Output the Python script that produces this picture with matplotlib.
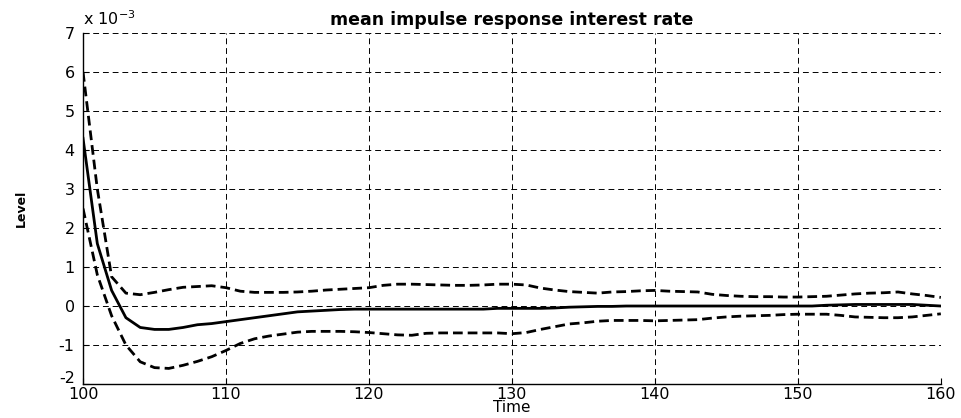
import matplotlib
matplotlib.use("Agg")
import matplotlib.pyplot as plt
from matplotlib.ticker import FuncFormatter
from matplotlib.transforms import ScaledTranslation
import numpy as np

# Data (values in units of 1e-3) ---------------------------------------------
time = np.arange(100, 161);

mean_resp = [4.3, 1.6, 0.4, -0.3, -0.55, -0.6, -0.6, -0.55, -0.48, -0.45,
	-0.4, -0.35, -0.3, -0.25, -0.2, -0.15, -0.13, -0.11, -0.09, -0.08,
	-0.08, -0.08, -0.08, -0.08, -0.08, -0.08, -0.08, -0.08, -0.08, -0.06,
	-0.06, -0.06, -0.06, -0.05, -0.03, -0.02, -0.01, -0.01, 0.0, 0.0,
	0.0, 0.0, 0.0, 0.0, 0.0, 0.0, 0.0, 0.0, 0.0, 0.0,
	0.0, 0.0, 0.02, 0.03, 0.04, 0.04, 0.04, 0.04, 0.04, 0.02,
	0.0];

upper_band = [6.0, 3.0, 0.75, 0.33, 0.29, 0.35, 0.42, 0.48, 0.5, 0.52,
	0.47, 0.38, 0.35, 0.35, 0.35, 0.36, 0.38, 0.41, 0.43, 0.45,
	0.47, 0.53, 0.56, 0.56, 0.55, 0.54, 0.53, 0.53, 0.54, 0.56,
	0.56, 0.54, 0.46, 0.41, 0.37, 0.35, 0.33, 0.36, 0.37, 0.39,
	0.40, 0.38, 0.37, 0.36, 0.30, 0.27, 0.25, 0.24, 0.24, 0.23,
	0.23, 0.24, 0.25, 0.28, 0.31, 0.33, 0.34, 0.36, 0.31, 0.27,
	0.22];

lower_band = [2.5, 0.8, -0.25, -1.0, -1.43, -1.58, -1.6, -1.52, -1.42, -1.3,
	-1.14, -0.96, -0.84, -0.77, -0.72, -0.67, -0.65, -0.65, -0.65, -0.66,
	-0.68, -0.71, -0.74, -0.75, -0.7, -0.69, -0.69, -0.69, -0.69, -0.69,
	-0.71, -0.68, -0.6, -0.53, -0.46, -0.43, -0.39, -0.37, -0.37, -0.37,
	-0.38, -0.37, -0.36, -0.35, -0.31, -0.28, -0.26, -0.25, -0.24, -0.22,
	-0.21, -0.21, -0.21, -0.24, -0.28, -0.29, -0.3, -0.3, -0.28, -0.24,
	-0.2];

scale = 1e-3;
x_ticks = [100, 110, 120, 130, 140, 150, 160];
y_ticks = [-2, -1, 0, 1, 2, 3, 4, 5, 6, 7];

plt.rcParams['font.family'] = ['DejaVu Sans'];

fig = plt.figure(figsize=(9.62, 4.18), dpi=100);
ax = fig.add_axes([0.0863, 0.0813, 0.8917, 0.8397]);

# Curves ---------------------------------------------------------------------
ax.plot(time, np.array(mean_resp)*scale, color='k', lw=2.0, solid_joinstyle='round');
ax.plot(time, np.array(upper_band)*scale, color='k', lw=2.0, dashes=(3.5, 1.8));
ax.plot(time, np.array(lower_band)*scale, color='k', lw=2.0, dashes=(3.5, 1.8));

# Axes -----------------------------------------------------------------------
ax.set_xlim(100, 160);
ax.set_ylim(-2*scale, 7*scale);
ax.set_xticks(x_ticks);
ax.set_yticks(np.array(y_ticks)*scale);
ax.yaxis.set_major_formatter(FuncFormatter(lambda v, p: "%d" % round(v/scale)));
ax.tick_params(direction='in', length=4, width=0.8, labelsize=11.5, colors='k');
ax.tick_params(axis='y', pad=6);
ax.tick_params(axis='x', pad=2);

# lift the "-2" label a bit so it does not sit on "100"
lab = ax.yaxis.get_major_ticks()[0].label1;
lab.set_transform(lab.get_transform() + ScaledTranslation(0, 5/72, fig.dpi_scale_trans));

ax.grid(True, color='k', lw=0.7, dashes=(6, 4));
for side in ['top', 'right']:
	ax.spines[side].set_visible(False);
for side in ['left', 'bottom']:
	ax.spines[side].set_linewidth(1.0);

ax.text(0.0, 1.015, r"x 10$^{-3}$", transform=ax.transAxes, fontsize=11.5, va='bottom', ha='left');
ax.set_title("mean impulse response interest rate", fontsize=12.5, fontweight='bold', pad=6);
ax.set_xlabel("Time", fontsize=11, labelpad=-1);
ax.set_ylabel("Level", fontsize=9, fontweight='bold', labelpad=22);

fig.savefig("out.png", dpi=100);
